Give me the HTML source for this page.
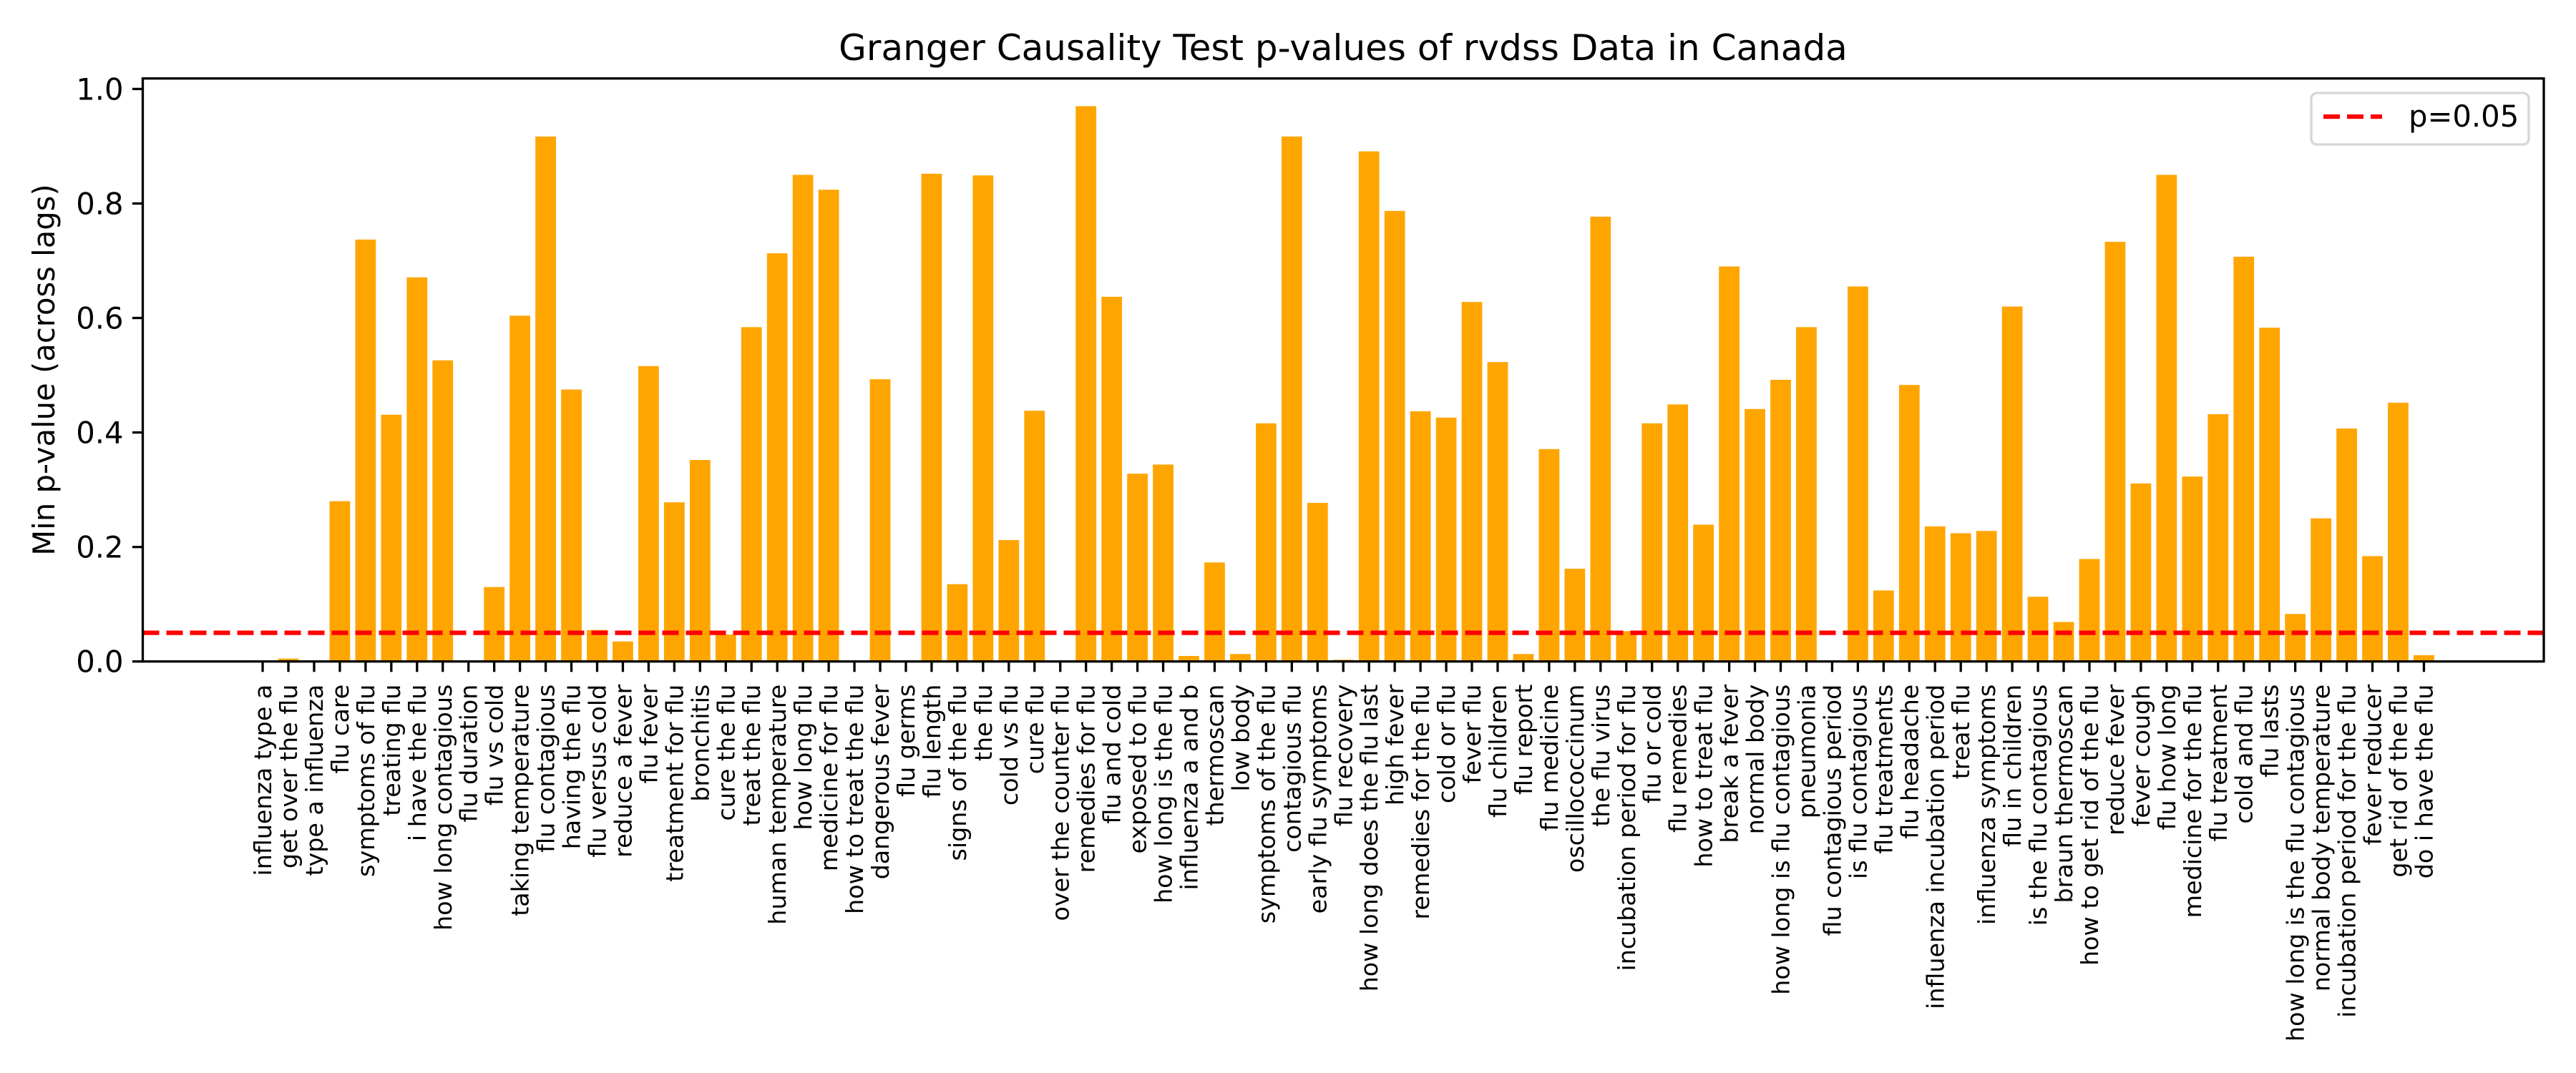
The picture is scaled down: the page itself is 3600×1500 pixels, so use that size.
<!DOCTYPE html>
<html><head><meta charset="utf-8"><style>
html,body{margin:0;padding:0;background:#fff;}
svg{display:block;font-family:"DejaVu Sans","Liberation Sans",sans-serif;}
</style></head><body>
<svg id="chart" width="3600" height="1500" viewBox="0 0 3600 1500" xmlns="http://www.w3.org/2000/svg">
<rect x="0" y="0" width="3600" height="1500" fill="#fff"/>
<text x="1877" y="84" font-size="50" text-anchor="middle" fill="#000">Granger Causality Test p-values of rvdss Data in Canada</text>
<text transform="translate(76,517) rotate(-90)" font-size="41.7" text-anchor="middle" fill="#000">Min p-value (across lags)</text>
<g id="bars"></g>
<g id="threshold"></g>
<g id="xticks"></g>
<g id="yticks"></g>
<rect x="199.5" y="109.7" width="3355.5" height="815" fill="none" stroke="#000" stroke-width="3.3"/>
<g>
<rect x="3230" y="130" width="304" height="72" rx="8" fill="#fff" fill-opacity="0.8" stroke="#d6d6d6" stroke-width="3.3"/>
<line x1="3247" y1="163" x2="3329" y2="163" stroke="#ff0000" stroke-width="6.25" stroke-dasharray="23,10"/>
<text x="3366" y="177" font-size="41.7" fill="#000">p=0.05</text>
</g>
</svg>
<script>
const categories = ["influenza type a","get over the flu","type a influenza","flu care","symptoms of flu","treating flu","i have the flu","how long contagious","flu duration","flu vs cold","taking temperature","flu contagious","having the flu","flu versus cold","reduce a fever","flu fever","treatment for flu","bronchitis","cure the flu","treat the flu","human temperature","how long flu","medicine for flu","how to treat the flu","dangerous fever","flu germs","flu length","signs of the flu","the flu","cold vs flu","cure flu","over the counter flu","remedies for flu","flu and cold","exposed to flu","how long is the flu","influenza a and b","thermoscan","low body","symptoms of the flu","contagious flu","early flu symptoms","flu recovery","how long does the flu last","high fever","remedies for the flu","cold or flu","fever flu","flu children","flu report","flu medicine","oscillococcinum","the flu virus","incubation period for flu","flu or cold","flu remedies","how to treat flu","break a fever","normal body","how long is flu contagious","pneumonia","flu contagious period","is flu contagious","flu treatments","flu headache","influenza incubation period","treat flu","influenza symptoms","flu in children","is the flu contagious","braun thermoscan","how to get rid of the flu","reduce fever","fever cough","flu how long","medicine for the flu","flu treatment","cold and flu","flu lasts","how long is the flu contagious","normal body temperature","incubation period for the flu","fever reducer","get rid of the flu","do i have the flu"];
const pValues = [0.002,0.005,0.002,0.280,0.737,0.431,0.671,0.526,0.0,0.130,0.604,0.917,0.475,0.055,0.035,0.516,0.278,0.352,0.047,0.584,0.713,0.850,0.824,0.0,0.493,0.0,0.852,0.135,0.849,0.212,0.438,0.0,0.970,0.637,0.328,0.344,0.0096,0.173,0.013,0.416,0.917,0.277,0.003,0.891,0.787,0.437,0.426,0.628,0.523,0.013,0.371,0.162,0.777,0.053,0.416,0.449,0.239,0.690,0.441,0.492,0.584,0.0,0.655,0.124,0.483,0.236,0.224,0.228,0.620,0.113,0.069,0.179,0.733,0.311,0.850,0.323,0.432,0.707,0.583,0.083,0.250,0.407,0.184,0.452,0.011];
const yTicks = [0.0,0.2,0.4,0.6,0.8,1.0];
const yTickLabels = ["0.0","0.2","0.4","0.6","0.8","1.0"];
const threshold = 0.05;

const NS = "http://www.w3.org/2000/svg";
const plotL = 199.5, plotR = 3555, plotT = 109.7, plotB = 924.7;
const n = categories.length;
const pad = 4.66;
const xMin = -pad, xMax = (n - 1) + pad;
const yMin = 0, yMax = (plotB - plotT) / 800.3;
function xScale(i){ return plotL + (i - xMin) / (xMax - xMin) * (plotR - plotL); }
function yScale(v){ return plotB - (v - yMin) / (yMax - yMin) * (plotB - plotT); }
const step = xScale(1) - xScale(0);
const barW = step * 0.8;

const gBars = document.getElementById('bars');
const gX = document.getElementById('xticks');
const gY = document.getElementById('yticks');
const gT = document.getElementById('threshold');

pValues.forEach(function(v, i){
  const r = document.createElementNS(NS, 'rect');
  const cx = xScale(i);
  const y = yScale(v);
  r.setAttribute('x', cx - barW/2);
  r.setAttribute('y', y);
  r.setAttribute('width', barW);
  r.setAttribute('height', Math.max(0, plotB - y));
  r.setAttribute('fill', '#FFA500');
  
  
  gBars.appendChild(r);
});

categories.forEach(function(c, i){
  const cx = xScale(i);
  const t = document.createElementNS(NS, 'line');
  t.setAttribute('x1', cx); t.setAttribute('x2', cx);
  t.setAttribute('y1', plotB); t.setAttribute('y2', plotB + 14.6);
  t.setAttribute('stroke', '#000'); t.setAttribute('stroke-width', '3.3');
  
  
  gX.appendChild(t);
  const tx = document.createElementNS(NS, 'text');
  tx.setAttribute('transform', 'translate(' + cx + ',' + (plotB + 32) + ') rotate(-90)');
  tx.setAttribute('text-anchor', 'end');
  tx.setAttribute('dy', '0.36em');
  tx.setAttribute('font-size', '33.3');
  tx.setAttribute('fill', '#000');
  tx.textContent = c;
  
  
  gX.appendChild(tx);
});

yTicks.forEach(function(v, i){
  const y = yScale(v);
  const t = document.createElementNS(NS, 'line');
  t.setAttribute('x1', plotL - 14.6); t.setAttribute('x2', plotL);
  t.setAttribute('y1', y); t.setAttribute('y2', y);
  t.setAttribute('stroke', '#000'); t.setAttribute('stroke-width', '3.3');
  
  
  gY.appendChild(t);
  const tx = document.createElementNS(NS, 'text');
  tx.setAttribute('x', plotL - 27);
  tx.setAttribute('y', y + 15);
  tx.setAttribute('text-anchor', 'end');
  tx.setAttribute('font-size', '41.7');
  tx.setAttribute('fill', '#000');
  tx.textContent = yTickLabels[i];
  
  
  gY.appendChild(tx);
});

const th = document.createElementNS(NS, 'line');
th.setAttribute('x1', plotL); th.setAttribute('x2', plotR);
th.setAttribute('y1', yScale(threshold)); th.setAttribute('y2', yScale(threshold));
th.setAttribute('stroke', '#ff0000'); th.setAttribute('stroke-width', '6.25');
th.setAttribute('stroke-dasharray', '23,10');


gT.appendChild(th);
</script>
</body></html>
